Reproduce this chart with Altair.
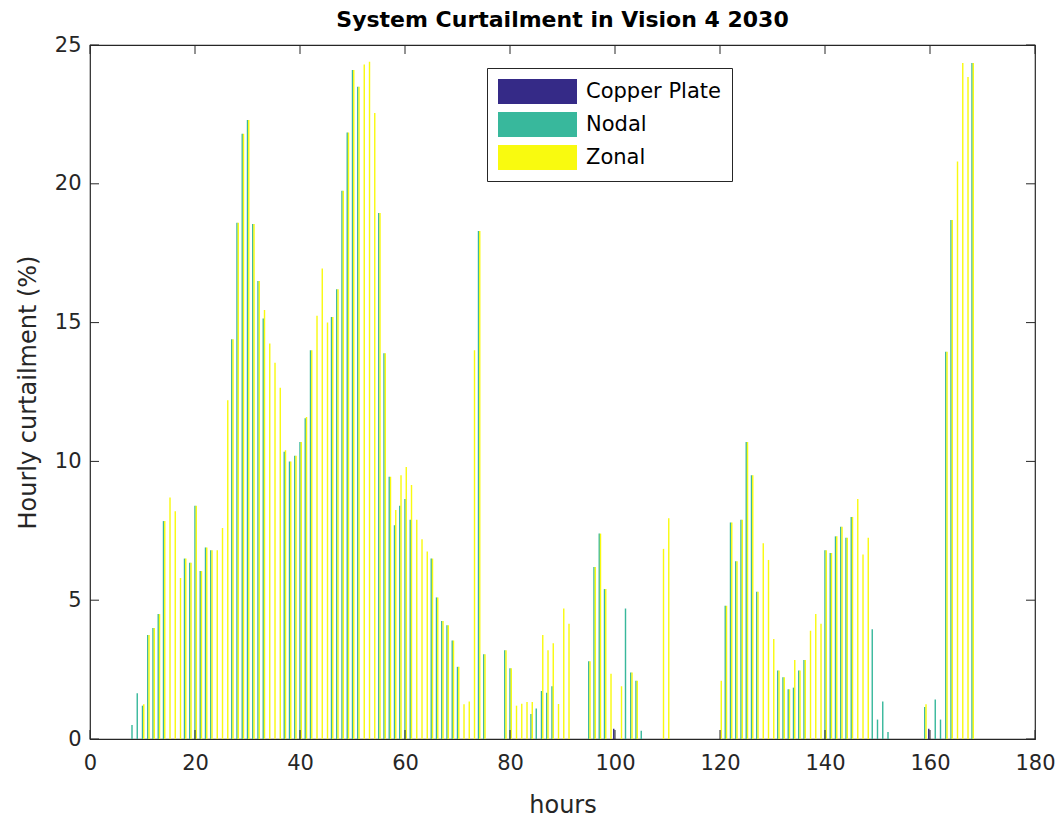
import altair as alt
import pandas as pd

hours = list(range(1, 169))

copper_plate = [0.0] * 168
copper_plate[100 - 1] = 0.37
copper_plate[160 - 1] = 0.37

nodal = [
    0, 0, 0, 0, 0, 0, 0, 0.5, 1.65, 1.2,
    3.75, 4.0, 4.5, 7.85, 0, 0, 0, 6.5, 6.35, 8.4,
    6.05, 6.9, 6.8, 0, 0, 0, 14.4, 18.6, 21.8, 22.3,
    18.55, 16.5, 15.15, 0, 0, 0, 10.35, 10.0, 10.2, 10.7,
    11.55, 14.0, 0, 0, 0, 15.2, 16.2, 19.75, 21.85, 24.1,
    23.5, 0, 0, 0, 18.95, 13.9, 9.45, 7.7, 8.4, 8.65,
    7.9, 0, 0, 0, 6.5, 5.1, 4.25, 4.1, 3.55, 2.6,
    0, 0, 0, 18.3, 3.05, 0, 0, 0, 3.2, 2.55,
    0, 0, 0, 0.9, 1.1, 1.73, 1.67, 1.9, 0, 0,
    0, 0, 0, 0, 2.8, 6.2, 7.4, 5.4, 0, 0,
    0, 4.7, 2.4, 2.1, 0.3, 0, 0, 0, 0, 0,
    0, 0, 0, 0, 0, 0, 0, 0, 0, 0,
    4.8, 7.8, 6.4, 7.9, 10.7, 9.5, 5.3, 0, 0, 0,
    2.47, 2.22, 1.79, 1.85, 2.47, 2.85, 0, 0, 0, 6.8,
    6.7, 7.3, 7.65, 7.25, 8.0, 0, 0, 0, 3.95, 0.7,
    1.35, 0.25, 0, 0, 0, 0, 0, 0, 1.15, 0,
    1.42, 0.7, 13.95, 18.7, 0, 0, 0, 24.35,
]

zonal = [
    0, 0, 0, 0, 0, 0, 0, 0, 0, 1.25,
    3.75, 4.0, 4.5, 7.85, 8.7, 8.2, 5.8, 6.5, 6.35, 8.4,
    6.05, 6.9, 6.8, 6.8, 7.6, 12.2, 14.4, 18.6, 21.8, 22.3,
    18.55, 16.5, 15.45, 14.25, 13.55, 12.65, 10.4, 10.0, 10.2, 10.7,
    11.6, 14.0, 15.25, 16.95, 15.0, 15.2, 16.2, 19.75, 21.85, 24.1,
    23.5, 24.3, 24.4, 22.55, 18.95, 13.9, 9.45, 8.25, 9.5, 9.8,
    9.15, 7.9, 7.2, 6.75, 6.5, 5.1, 4.25, 4.1, 3.55, 2.6,
    1.25, 1.35, 14.0, 18.3, 3.05, 0, 0, 0, 3.2, 2.55,
    1.2, 1.27, 1.33, 1.33, 0, 3.75, 3.2, 3.45, 1.26, 4.7,
    4.15, 0, 0, 0, 2.8, 6.2, 7.4, 5.4, 2.35, 0,
    1.9, 0, 2.4, 2.1, 0, 0, 0, 0, 6.85, 7.95,
    0, 0, 0, 0, 0, 0, 0, 0, 0, 2.1,
    4.8, 7.8, 6.4, 7.9, 10.7, 9.5, 5.3, 7.05, 6.45, 3.6,
    2.47, 2.22, 1.79, 2.85, 2.47, 2.85, 3.9, 4.5, 4.15, 6.8,
    6.7, 7.3, 7.65, 7.25, 8.0, 8.65, 6.65, 7.25, 0, 0,
    0, 0, 0, 0, 0, 0, 0, 0, 1.25, 0,
    0, 0, 13.95, 18.7, 20.8, 24.35, 23.85, 24.35,
]

series_names = ["Copper Plate", "Nodal", "Zonal"]
series_colors = ["#352A87", "#38B89C", "#F9FA0F"]
x_ticks = list(range(0, 181, 20))
y_ticks = list(range(0, 26, 5))

rows = []
for name, vals in zip(series_names, [copper_plate, nodal, zonal]):
    for h, v in zip(hours, vals):
        rows.append({"hour": h, "series": name, "value": v})
df = pd.DataFrame(rows)
xt = pd.DataFrame({"t": x_ticks})
yt = pd.DataFrame({"t": y_ticks})

W, H = 945, 694
FONT = "DejaVu Sans"
TICK = 9
xscale = alt.Scale(domain=[0, 180], nice=False, zero=False)
yscale = alt.Scale(domain=[0, 25], nice=False)
xaxis = alt.Axis(values=x_ticks, format="d", labelFlush=False, labelPadding=13, titlePadding=20)
yaxis = alt.Axis(values=y_ticks, format="d", labelFlush=False, labelPadding=9, titlePadding=14)
XT = "hours"
YT = "Hourly curtailment (%)"

bars = alt.Chart(df).transform_calculate(
    off="datum.series == 'Copper Plate' ? -0.24 : (datum.series == 'Nodal' ? 0 : 0.24)"
).transform_calculate(
    x0="datum.hour + datum.off - 0.135",
    x1="datum.hour + datum.off + 0.135",
    base="0",
).mark_bar(strokeWidth=0).encode(
    x=alt.X("x0:Q", scale=xscale, title=XT, axis=xaxis),
    x2="x1:Q",
    y=alt.Y("value:Q", scale=yscale, title=YT, axis=yaxis),
    y2="base:Q",
    color=alt.Color(
        "series:N",
        scale=alt.Scale(domain=series_names, range=series_colors),
        legend=alt.Legend(
            title=None, orient="none", legendX=397, legendY=23,
            symbolType="M-1,-1L5.32,-1L5.32,1L-1,1Z",
            symbolSize=625, symbolStrokeWidth=0, symbolOpacity=1,
            labelFont=FONT, labelFontSize=21, labelColor="#000000",
            strokeColor="#262626", fillColor="white",
            padding=11, rowPadding=8, labelOffset=63,
        ),
    ),
)

tick_bottom = alt.Chart(xt).mark_rule(color="#262626", strokeWidth=1).encode(
    x=alt.X("t:Q", scale=xscale, title=XT, axis=xaxis),
    y=alt.value(H), y2=alt.value(H - TICK),
)
tick_top = alt.Chart(xt).mark_rule(color="#262626", strokeWidth=1).encode(
    x=alt.X("t:Q", scale=xscale, title=XT, axis=xaxis),
    y=alt.value(0), y2=alt.value(TICK),
)
tick_left = alt.Chart(yt).mark_rule(color="#262626", strokeWidth=1).encode(
    y=alt.Y("t:Q", scale=yscale, title=YT, axis=yaxis),
    x=alt.value(0), x2=alt.value(TICK),
)
tick_right = alt.Chart(yt).mark_rule(color="#262626", strokeWidth=1).encode(
    y=alt.Y("t:Q", scale=yscale, title=YT, axis=yaxis),
    x=alt.value(W), x2=alt.value(W - TICK),
)

chart = alt.layer(bars, tick_bottom, tick_top, tick_left, tick_right).properties(
    width=W,
    height=H,
    title=alt.TitleParams(
        "System Curtailment in Vision 4 2030", font=FONT, fontSize=22,
        fontWeight="bold", color="#000000", offset=2, anchor="middle",
    ),
    padding={"left": 82, "top": 37, "right": 20, "bottom": 80},
    autosize=alt.AutoSizeParams(type="none"),
).configure_axis(
    labelFont=FONT, labelFontSize=21, labelColor="#262626",
    titleFont=FONT, titleFontSize=24, titleFontWeight="normal", titleColor="#262626",
    tickSize=0, domain=False, grid=False,
).configure_view(stroke="#262626", strokeWidth=1.2)

chart.save("out.html", embed_options={"renderer": "svg", "actions": False})
